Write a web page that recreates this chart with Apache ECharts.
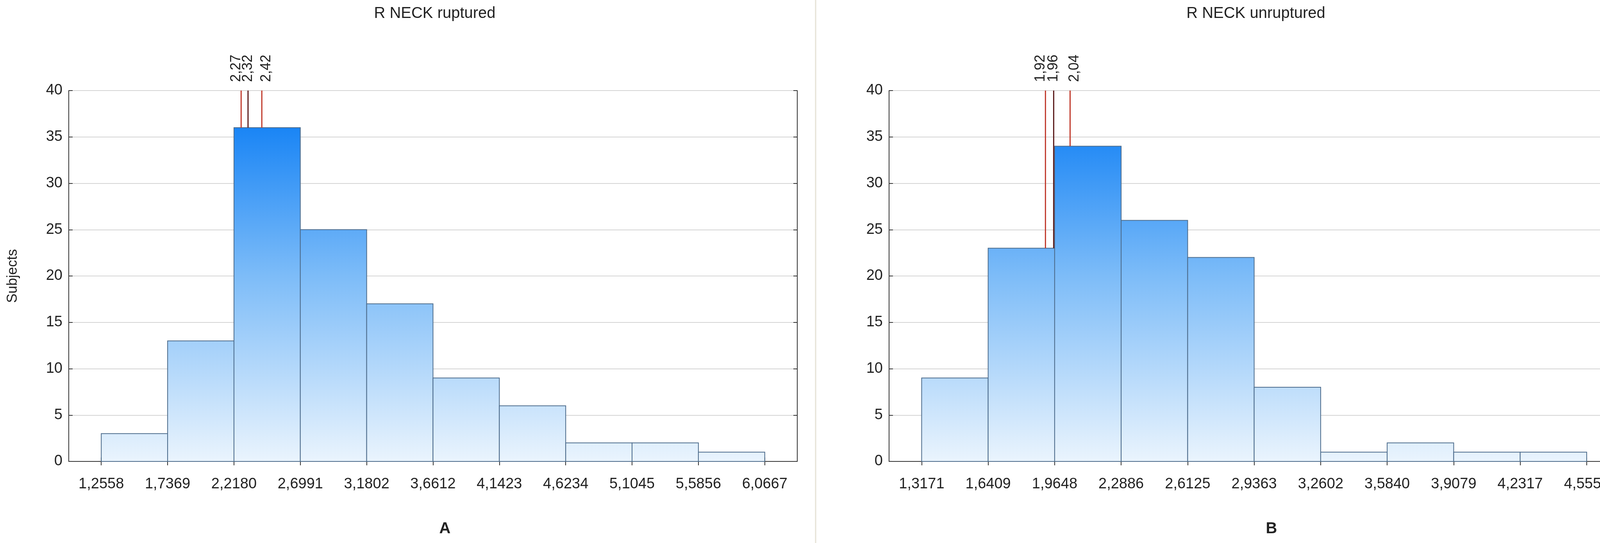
<!DOCTYPE html>
<html><head><meta charset="utf-8">
<script src="https://cdn.jsdelivr.net/npm/echarts@6/dist/echarts.min.js"></script>
<style>html,body{margin:0;background:#fff}#c{width:4184px;height:1391px}</style>
</head><body><div id="c"></div>
<script>
const titleA = 'R NECK ruptured';
const titleB = 'R NECK unruptured';
const edgesA = [1.2558,1.7369,2.2180,2.6991,3.1802,3.6612,4.1423,4.6234,5.1045,5.5856,6.0667];
const countsA = [3,13,36,25,17,9,6,2,2,1];
const linesA = [2.27,2.32,2.42];
const edgesB = [1.3171,1.6409,1.9648,2.2886,2.6125,2.9363,3.2602,3.5840,3.9079,4.2317,4.5556];
const countsB = [9,23,34,26,22,8,1,2,1,1];
const linesB = [1.92,1.96,2.04];

const font = '"Liberation Sans Narrow", "Liberation Sans", Arial, sans-serif';
const fmt = v => v.toFixed(4).replace('.', ',');

function bars(edges, counts) {
  return counts.map((c, i) => [edges[i], edges[i+1], c]);
}
function barAt(edges, counts, x) {
  for (let i = 0; i < counts.length; i++) if (x >= edges[i] && x <= edges[i+1]) return counts[i];
  return 0;
}

const grids = [
  {left: 176, right: 4184-2041, top: 232, height: 950},
  {left: 2276, right: 4184-4130, top: 232, height: 950}
];
const sets = [[edgesA,countsA,linesA],[edgesB,countsB,linesB]];

const xAxis = [], yAxis = [], series = [];
sets.forEach(([edges, counts, lines], g) => {
  const w = edges[1]-edges[0];
  const min = edges[0] - w*0.49, max = edges[edges.length-1] + w*(g===0?0.49:0.4);
  xAxis.push({type:'value', gridIndex:g, min, max, position:'bottom',
    splitLine:{show:false},
    axisLine:{lineStyle:{color:'#333', width:2}},
    axisTick:{inside:true, length:10, customValues:edges, lineStyle:{color:'#333',width:2}},
    axisLabel:{customValues:edges, formatter:v=>fmt(v), color:'#222', fontSize:38, fontFamily:font, margin:40}});
  xAxis.push({type:'value', gridIndex:g, min, max, position:'top',
    splitLine:{show:false},
    axisLine:{lineStyle:{color:'#333', width:2}},
    axisTick:{inside:true, length:10, customValues:edges, lineStyle:{color:'#333',width:2}},
    axisLabel:{show:false}});
  yAxis.push({type:'value', gridIndex:g, min:0, max:40, interval:5, position:'left',
    name: g===0 ? 'Subjects' : '', nameLocation:'middle', nameGap:125,
    nameTextStyle:{fontSize:36, fontFamily:font, color:'#222'},
    axisLine:{show:true, lineStyle:{color:'#333', width:2}},
    axisTick:{show:true, inside:true, length:10, lineStyle:{color:'#333',width:2}},
    axisLabel:{color:'#222', fontSize:38, fontFamily:font, margin:16},
    splitLine:{show:true, lineStyle:{color:'#d4d4d4', width:2}}});
  yAxis.push({type:'value', gridIndex:g, min:0, max:40, interval:5, position:'right',
    axisLine:{show:true, lineStyle:{color:'#333', width:2}},
    axisTick:{show:true, inside:true, length:10, lineStyle:{color:'#333',width:2}},
    axisLabel:{show:false}, splitLine:{show:false}});
  series.push({type:'custom', xAxisIndex:g*2, yAxisIndex:g*2, data:bars(edges,counts),
    renderItem:(params, api) => {
      const p0 = api.coord([api.value(0), api.value(2)]);
      const p1 = api.coord([api.value(1), 0]);
      const top = api.coord([0, 40])[1], bot = api.coord([0, 0])[1];
      return {type:'rect', shape:{x:p0[0], y:p0[1], width:p1[0]-p0[0], height:p1[1]-p0[1]},
        style:{fill:new echarts.graphic.LinearGradient(0, top, 0, bot, [
          {offset:0, color:'#006ef0'},{offset:0.1, color:'#1a85f5'},{offset:0.5, color:'#7dbcf8'},{offset:1, color:'#eaf4fd'}], true),
          stroke:'#4d6c8c', lineWidth:2}};
    }});
  series.push({type:'custom', xAxisIndex:g*2, yAxisIndex:g*2, clip:false,
    data: lines.map(v => [v, barAt(edges, counts, v)]),
    renderItem:(params, api) => {
      const x = api.value(0);
      const p0 = api.coord([x, api.value(1)]);
      const p1 = api.coord([x, 40]);
      const col = params.dataIndex === 1 ? '#5a1a1a' : '#c0392b';
      return {type:'group', children:[
        {type:'line', shape:{x1:p0[0], y1:p0[1], x2:p1[0], y2:p1[1]}, style:{stroke:col, lineWidth:3}},
        {type:'text', x:p1[0] + (params.dataIndex-1)*12, y:p1[1]-22, rotation:Math.PI/2,
          style:{text:x.toFixed(2).replace('.',','), fontSize:36, fontFamily:font, fill:'#222',
            align:'left', verticalAlign:'middle'}}
      ]};
    }});
});

const chart = echarts.init(document.getElementById('c'));
chart.setOption({
  animation:false,
  title:[
    {text:titleA, left:1108, top:10, textAlign:'center', textStyle:{fontSize:40, fontWeight:'normal', fontFamily:font, color:'#222'}},
    {text:titleB, left:3210, top:10, textAlign:'center', textStyle:{fontSize:40, fontWeight:'normal', fontFamily:font, color:'#222'}},
    {text:'A', left:1134, top:1330, textAlign:'center', textStyle:{fontSize:40, fontWeight:'bold', fontFamily:font, color:'#222'}},
    {text:'B', left:3250, top:1330, textAlign:'center', textStyle:{fontSize:40, fontWeight:'bold', fontFamily:font, color:'#222'}}
  ],
  graphic:[{type:'line', shape:{x1:2088,y1:0,x2:2088,y2:1391}, style:{stroke:'#e6e2d6', lineWidth:3}}],
  grid:grids, xAxis, yAxis, series
});
</script></body></html>
